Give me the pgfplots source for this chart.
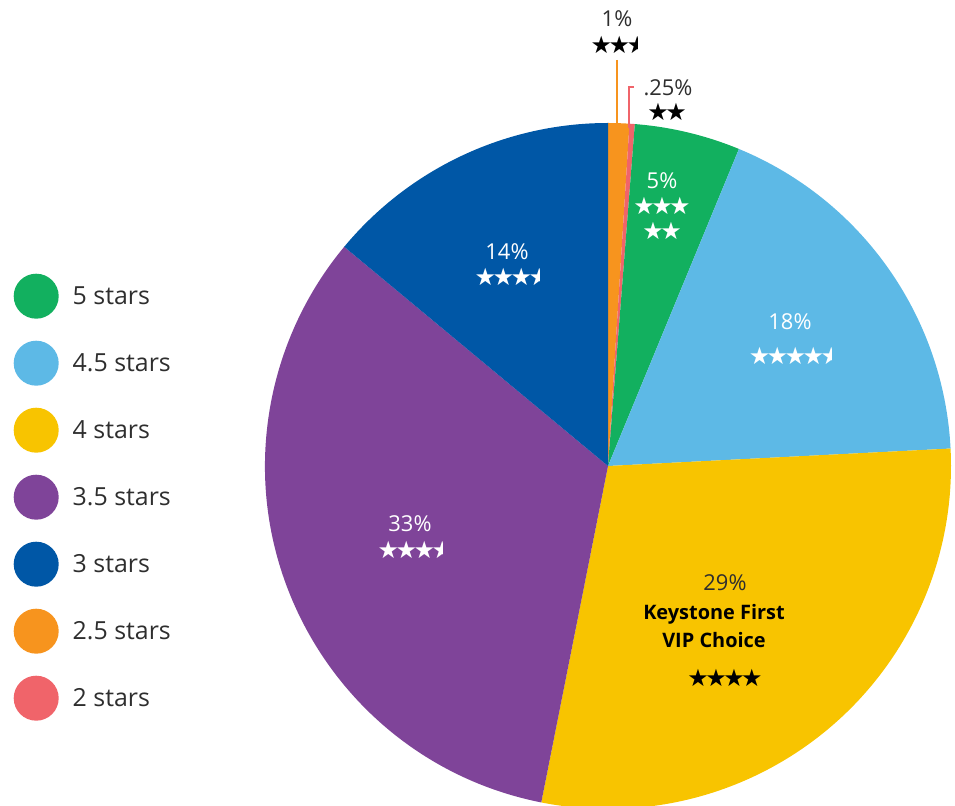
\documentclass[border=0pt]{standalone}
\usepackage{pgfplots}
\pgfplotsset{compat=1.18}
\usepackage{pgfplotstable}
\usepackage{fontspec}
\usepackage{trimclip}
\setmainfont{Open Sans}
\newfontfamily\sym{DejaVu Sans}

\definecolor{cgreen}{HTML}{12B05F}
\definecolor{clblue}{HTML}{5DB9E6}
\definecolor{cyellow}{HTML}{F8C400}
\definecolor{cpurple}{HTML}{7F4499}
\definecolor{cdblue}{HTML}{0057A6}
\definecolor{corange}{HTML}{F7941E}
\definecolor{cred}{HTML}{F0646A}
\definecolor{ctext}{HTML}{2E2E2E}

% star row helpers
\newcommand\st{★\kern-3.5bp}
\newcommand\hs{\clipbox{0pt 0pt {.5\width} 0pt}{★}}
\newcommand\stars[1]{{\sym\fontsize{24}{26}\selectfont #1}}
\newcommand\pctfont{\fontsize{22}{25}\selectfont}

% slices clockwise from 12 o'clock
\pgfplotstableread{
stars pct col
2.5 1 corange
2 0.25 cred
5 5 cgreen
4.5 18 clblue
4 29 cyellow
3.5 33 cpurple
3 14 cdblue
}\piedata

\begin{document}
\begin{tikzpicture}
\useasboundingbox (0,0) rectangle (955bp,806bp);
\begin{axis}[
    at={(0,0)}, anchor=south west,
    width=955bp, height=806bp, scale only axis,
    xmin=0, xmax=955, ymin=0, ymax=806,
    enlargelimits=false,
    hide axis,
    legend image code/.code={\fill[#1] (22.5bp,0) circle[radius=22.5bp];},
    legend cell align=left,
    legend style={at={(axis cs:13.5,532.5)}, anchor=north west,
      draw=none, fill=none, inner sep=0pt,
      row sep=22bp, column sep=14bp,
      font=\fontsize{25}{28}\selectfont, text=ctext,
      nodes={inner sep=0pt}},
    ]
\pgfplotsextra{%
  \pgfplotstablegetrowsof{\piedata}%
  \pgfmathtruncatemacro\nrows{\pgfplotsretval-1}%
  \xdef\total{0}%
  \foreach \i in {0,...,\nrows}{%
    \pgfplotstablegetelem{\i}{pct}\of\piedata
    \pgfmathsetmacro\tmp{\total+\pgfplotsretval}\xdef\total{\tmp}%
  }%
  \xdef\angA{90}%
  \foreach \i in {0,...,\nrows}{%
    \pgfplotstablegetelem{\i}{pct}\of\piedata \let\p\pgfplotsretval
    \pgfplotstablegetelem{\i}{col}\of\piedata \let\colname\pgfplotsretval
    \pgfmathsetmacro\angB{\angA-360*\p/\total}%
    \fill[\colname] (axis cs:608,340) -- ++(\angA:343bp)
      arc[start angle=\angA, end angle=\angB, radius=343bp] -- cycle;
    \xdef\angA{\angB}%
  }%
}

% leader lines for the two thin slices
\draw[corange, line width=2bp] (axis cs:617,746) -- (axis cs:617,680);
\draw[cred, line width=2bp] (axis cs:634,719) -- (axis cs:629,719) -- (axis cs:629,678);

% slice labels
\node[font=\pctfont, text=white] at (axis cs:662,625) {5\%};
\node[text=white] at (axis cs:662,600) {\stars{\st\st★}};
\node[text=white] at (axis cs:662,575) {\stars{\st★}};
\node[font=\pctfont, text=white] at (axis cs:790,484) {18\%};
\node[text=white] at (axis cs:790,450) {\stars{\st\st\st\st\hs}};
\node[font=\pctfont, text=ctext] at (axis cs:725,223) {29\%};
\node[font=\bfseries\fontsize{20}{29}\selectfont, text=black, align=center]
  at (axis cs:714,180) {Keystone First\\VIP Choice};
\node[text=black] at (axis cs:725,128) {\stars{\st\st\st★}};
\node[font=\pctfont, text=white] at (axis cs:410,282) {33\%};
\node[text=white] at (axis cs:410,256) {\stars{\st\st\st\hs}};
\node[font=\pctfont, text=white] at (axis cs:507,554) {14\%};
\node[text=white] at (axis cs:507,529) {\stars{\st\st\st\hs}};
\node[font=\pctfont, text=ctext] at (axis cs:617,787) {1\%};
\node[text=black] at (axis cs:614,761) {\stars{\st\st\hs}};
\node[font=\pctfont, text=ctext] at (axis cs:668,718) {.25\%};
\node[text=black] at (axis cs:667,694) {\stars{\st★}};

\addlegendimage{fill=cgreen, draw=none}\addlegendentry{5 stars}
\addlegendimage{fill=clblue, draw=none}\addlegendentry{4.5 stars}
\addlegendimage{fill=cyellow, draw=none}\addlegendentry{4 stars}
\addlegendimage{fill=cpurple, draw=none}\addlegendentry{3.5 stars}
\addlegendimage{fill=cdblue, draw=none}\addlegendentry{3 stars}
\addlegendimage{fill=corange, draw=none}\addlegendentry{2.5 stars}
\addlegendimage{fill=cred, draw=none}\addlegendentry{2 stars}
\end{axis}
\end{tikzpicture}
\end{document}
